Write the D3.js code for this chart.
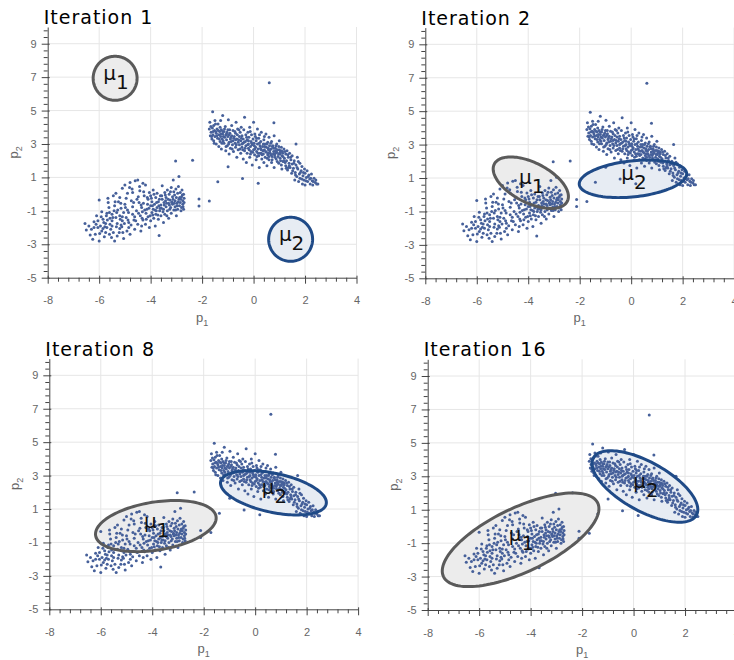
<!DOCTYPE html>
<html>
<head>
<meta charset="utf-8">
<script src="https://cdn.jsdelivr.net/npm/d3@7"></script>
<style>
  body { margin: 0; background: #fff; }
  svg { display: block; }
</style>
</head>
<body>
<svg id="chart" width="734" height="660"></svg>
<script>
const titles = ['Iteration 1', 'Iteration 2', 'Iteration 8', 'Iteration 16']
const xTicks = [-8, -6, -4, -2, 0, 2, 4]
const yTicks = [-5, -3, -1, 1, 3, 5, 7, 9]

// lower-left cloud
const cluster1 = [
  [-6.55,-1.75],[-6.5,-2.15],[-6.3,-2.1],[-6.25,-2.7],[-6.2,-1.65],[-6.15,-2.4],
  [-6.05,-1.6],[-6.0,-2.8],[-5.95,-1.9],[-5.9,-2.2],[-6.1,-1.3],[-6.0,-0.35],[-5.85,-1.5],[-5.8,-2.55],[-5.9,-1.05],[-6.05,-2.0],
  [-5.75,-1.75],[-5.7,-2.0],[-5.72,-1.3],[-5.65,-0.5],[-5.6,-2.4],[-5.78,-1.95],[-5.68,-1.55],[-5.6,-1.1],[-5.55,-2.1],[-5.62,-0.8],
  [-5.5,-1.6],[-5.45,-2.3],[-5.4,-2.8],[-5.5,-1.2],[-5.45,-0.1],[-5.35,0.05],[-5.4,-0.7],[-5.5,-1.9],[-5.35,-1.4],[-5.3,-2.5],[-5.42,-1.0],[-5.3,-1.75],[-5.25,-0.45],
  [-5.2,-1.3],[-5.2,-2.05],[-5.15,-0.85],[-5.1,-1.6],[-5.05,-2.65],[-5.1,0.35],[-5.0,0.55],[-5.2,-0.2],[-5.15,-1.85],[-5.05,-1.1],[-5.0,-0.6],[-5.08,-2.3],[-5.18,-1.5],
  [-4.95,-1.4],[-4.9,-0.95],[-4.85,-2.0],[-4.9,0.05],[-4.8,0.7],[-4.85,-1.7],[-4.75,-0.4],[-4.8,-2.4],[-4.7,-1.2],[-4.72,0.3],[-4.95,-0.25],[-4.65,-1.55],[-4.7,-0.75],[-4.6,0.8],[-4.62,-2.1],
  [-4.55,-1.0],[-4.5,0.85],[-4.45,-0.5],[-4.5,-1.8],[-4.4,-1.3],[-4.42,0.2],[-4.35,-0.8],[-4.3,0.65],[-4.38,-2.2],[-4.3,-1.55],[-4.25,-0.1],[-4.48,-0.15],[-4.32,-1.05],[-4.28,-0.55],[-4.2,-1.8],[-4.2,0.55],
  [-4.15,-0.9],[-4.1,-0.3],[-4.1,-1.35],[-4.05,0.1],[-4.0,-0.7],[-4.0,-1.6],[-3.95,-0.45],[-3.95,-1.1],[-4.05,-2.0],[-3.9,0.25],[-3.9,-0.9],[-3.88,-1.45],[-4.0,-0.1],[-3.85,-0.6],[-4.12,-0.6],[-3.82,-1.9],[-3.8,-0.2],[-3.8,-1.2],
  [-3.75,-0.8],[-3.75,0.05],[-3.7,-1.5],[-3.7,-0.45],[-3.65,-1.0],[-3.62,-0.1],[-3.6,-0.65],[-3.6,-1.3],[-3.55,0.5],[-3.55,-0.3],[-3.5,-0.9],[-3.5,-1.7],[-3.48,-0.5],[-3.45,0.1],[-3.45,-1.2],[-3.4,-0.75],[-3.4,-0.2],[-3.35,-1.0],[-3.35,0.25],[-3.3,-0.55],
  [-3.3,-1.45],[-3.28,0.0],[-3.25,-0.35],[-3.22,-0.8],[-3.2,0.4],[-3.2,-1.15],[-3.15,-0.15],[-3.15,-0.6],[-3.12,0.85],[-3.1,-0.95],[-3.1,0.15],[-3.05,-0.4],[-3.05,-0.75],[-3.02,0.3],[-3.0,-0.2],[-3.0,-1.3],[-2.98,-0.55],[-2.95,0.05],[-2.95,-0.9],[-2.92,0.45],
  [-2.9,-0.3],[-2.88,-0.7],[-2.85,0.1],[-2.85,-0.5],[-2.82,-1.0],[-2.8,-0.15],[-2.8,-0.8],[-2.78,0.25],[-2.75,-0.4],[-2.75,-0.6],[-2.72,-0.9],[-2.7,-0.25],[-2.72,0.0],[-2.9,1.05],[-2.7,-0.5],
  [-3.58,-0.85],[-3.42,-0.4],[-3.27,-0.65],[-3.13,-0.3],[-2.97,-0.7],[-3.38,-0.55],[-3.68,-0.7],[-3.78,-1.0],[-3.92,-1.25],[-4.18,-1.15],
  [-4.35,-1.9],[-4.62,-1.35],[-4.88,-1.55],[-5.12,-1.95],[-5.32,-1.1],[-5.58,-1.45],[-5.82,-1.7],[-3.18,-0.5],[-2.87,-0.2],[-3.07,-0.05],
  [-6.4,-1.9],[-6.35,-2.45],[-6.2,-2.0],[-6.12,-1.8],[-5.98,-2.35],[-5.92,-1.35],[-5.85,-2.05],[-5.75,-2.3],[-5.7,-1.15],[-5.66,-0.25],
  [-5.58,-1.8],[-5.52,-2.6],[-5.47,-1.4],[-5.38,-0.45],[-5.33,-1.95],[-5.28,-0.95],[-5.22,-2.3],[-5.16,-0.55],[-5.1,-1.35],[-5.02,-1.75],
  [-4.98,-0.8],[-4.92,-2.2],[-4.86,-1.1],[-4.82,0.4],[-4.76,-1.85],[-4.7,0.1],[-4.66,-0.5],[-4.58,-1.6],[-4.53,-0.3],[-4.47,-1.15],
  [-4.43,0.45],[-4.37,-0.65],[-4.33,-1.45],[-4.27,0.15],[-4.23,-0.95],[-4.17,-1.5],[-4.13,-0.2],[-4.07,-0.85],[-4.02,-1.3],[-3.97,-0.25],
  [-3.93,-0.7],[-3.87,0.0],[-3.83,-0.95],[-3.77,-0.5],[-3.72,-1.25],[-3.66,-0.3],[-3.63,-0.85],[-3.57,-0.1],[-3.52,-1.05],[-3.47,-0.65],
  [-3.43,-0.05],[-3.37,-1.3],[-3.32,-0.3],[-3.26,-0.9],[-3.23,0.15],[-3.17,-0.45],[-3.08,-0.55],[-3.03,-0.95],[-2.93,-0.45],[-2.83,-0.3],
  [-2.77,-0.05],[-2.74,-0.75]
]

// upper-right cloud
const cluster2 = [
  [-1.7,4.3],[-1.68,3.5],[-1.65,3.7],[-1.62,3.3],[-1.6,3.95],[-1.58,3.55],[-1.55,4.1],[-1.55,3.2],[-1.52,3.8],[-1.5,3.45],[-1.5,4.4],
  [-1.45,3.65],[-1.45,3.0],[-1.42,3.9],[-1.4,3.35],[-1.38,4.2],[-1.35,3.55],[-1.35,2.85],[-1.32,3.75],[-1.3,3.15],[-1.3,4.0],[-1.28,3.45],[-1.25,2.7],[-1.25,3.85],[-1.22,3.3],[-1.2,4.7],[-1.2,3.6],
  [-1.15,3.05],[-1.15,3.75],[-1.12,3.4],[-1.1,4.05],[-1.08,2.6],[-1.05,3.25],[-1.05,3.6],[-1.02,2.9],[-1.0,3.85],[-1.0,3.45],[-0.98,4.45],[-0.95,3.1],[-0.95,2.4],[-0.92,3.65],[-0.9,3.3],[-0.9,2.75],
  [-0.85,3.5],[-0.85,4.1],[-0.82,2.95],[-0.8,3.2],[-0.8,3.8],[-0.78,2.55],[-0.75,3.45],[-0.72,3.05],[-0.7,3.65],[-0.7,2.8],[-0.68,4.3],[-0.65,3.3],[-0.65,2.2],[-0.62,3.9],[-0.6,3.1],[-0.6,2.65],
  [-0.55,3.45],[-0.55,2.95],[-0.52,3.7],[-0.5,2.45],[-0.5,3.2],[-0.48,4.0],[-0.45,2.8],[-0.45,3.5],[-0.42,3.05],[-0.4,2.1],[-0.4,3.3],[-0.38,3.85],[-0.35,2.6],[-0.35,4.6],[-0.32,3.15],[-0.3,2.9],[-0.3,3.55],[-0.28,1.9],
  [-0.25,3.25],[-0.25,2.45],[-0.22,3.7],[-0.2,2.75],[-0.2,3.0],[-0.18,3.4],[-0.15,2.2],[-0.15,4.0],[-0.12,2.85],[-0.1,3.15],[-0.1,2.55],[-0.08,3.55],[-0.05,1.75],[-0.05,2.95],[-0.02,3.3],[0.0,2.65],[0.0,4.3],[0.02,3.05],[0.04,2.35],[0.05,3.6],
  [0.08,2.8],[0.1,3.2],[0.1,2.05],[0.12,2.55],[0.15,3.0],[0.15,3.9],[0.18,2.7],[0.2,2.3],[0.2,3.35],[0.22,1.6],[0.25,2.9],[0.25,2.45],[0.28,3.15],[0.3,2.65],[0.3,3.7],[0.32,2.1],
  [0.35,2.85],[0.38,2.4],[0.4,3.25],[0.4,1.9],[0.42,2.65],[0.45,3.0],[0.45,2.2],[0.48,3.6],[0.5,2.5],[0.5,2.8],[0.52,1.7],[0.55,3.1],[0.55,2.35],[0.58,2.65],[0.6,2.05],[0.6,3.4],[0.62,2.9],
  [0.65,2.45],[0.68,2.7],[0.7,1.9],[0.7,3.15],[0.72,2.25],[0.75,2.9],[0.78,2.55],[0.8,1.6],[0.8,3.5],[0.82,2.35],[0.85,2.75],[0.88,2.1],[0.9,3.0],[0.9,2.5],
  [0.95,2.25],[0.98,1.85],[1.0,2.65],[1.0,3.2],[1.02,2.4],[1.05,2.0],[1.08,2.8],[1.1,1.5],[1.1,2.3],[1.12,2.55],[1.15,1.95],[1.18,2.7],[1.2,2.15],
  [1.25,2.4],[1.25,1.7],[1.28,2.0],[1.3,2.6],[1.32,1.45],[1.35,2.2],[1.38,1.85],[1.4,2.45],[1.42,1.6],[1.45,2.05],[1.48,1.25],[1.5,1.8],[1.5,2.3],
  [1.55,1.55],[1.58,2.0],[1.6,0.85],[1.62,1.3],[1.65,1.75],[1.65,3.0],[1.68,1.05],[1.7,2.2],[1.72,1.5],[1.75,0.75],[1.78,1.2],[1.8,1.85],[1.8,0.95],
  [1.85,1.4],[1.88,1.65],[1.9,0.6],[1.92,1.1],[1.95,0.85],[1.98,1.5],[2.0,1.25],[2.0,0.55],[2.05,1.0],[2.08,1.4],[2.1,0.75],
  [2.15,1.15],[2.18,0.9],[2.2,0.6],[2.25,1.2],[2.28,0.8],[2.3,0.55],[2.35,0.95],[2.4,0.7],[2.45,0.6],[2.5,0.6],
  [-0.58,3.25],[-0.42,2.65],[-0.27,3.4],[-0.12,2.4],[0.03,2.9],[0.12,3.35],[0.27,2.75],[0.33,2.35],[0.43,2.85],[0.53,2.15],
  [0.63,2.6],[0.73,2.85],[0.83,2.2],[0.93,2.65],[1.03,2.15],[1.13,2.45],[1.23,1.9],[0.47,2.55],[0.17,2.45],[-0.07,3.05],
  [-0.33,2.75],[-0.63,3.55],[-0.88,3.4],[-1.08,3.55],[-1.27,3.6],[-1.47,3.75],[-1.18,3.2],[-0.97,3.0],[-0.77,3.35],[0.57,2.75],
  [0.77,2.4],[0.87,2.9],[1.07,2.6],[0.22,3.05],[-0.17,2.65],[0.38,3.0],[0.68,2.35],[0.97,2.4],[1.17,2.0],[1.35,1.6],
  [-1.72,3.9],[-1.66,4.05],[-1.63,3.45],[-1.57,3.75],[-1.53,3.05],[-1.48,4.2],[-1.43,3.5],[-1.37,3.8],[-1.33,3.3],[-1.28,4.4],
  [-1.23,3.05],[-1.17,3.45],[-1.13,3.9],[-1.07,2.85],[-1.03,3.7],[-0.93,3.85],[-0.87,3.15],[-0.83,2.7],[-0.73,3.75],[-0.67,2.95],
  [-0.57,3.85],[-0.53,2.7],[-0.47,3.35],[-0.37,3.1],[-0.23,2.95],[-0.13,3.75],[-0.03,2.5],[0.07,3.45],[0.13,2.25],[0.23,3.55],
  [0.37,2.6],[0.42,3.45],[0.52,3.0],[0.58,2.45],[0.67,3.05],[0.72,2.05],[0.78,2.75],[0.85,2.45],[0.92,1.95],[0.98,2.85],
  [1.03,2.5],[1.08,1.75],[1.14,2.25],[1.22,2.55],[1.27,1.55],[1.33,2.35],[1.39,1.7],[1.44,2.2],[1.52,1.4],[1.57,1.85],
  [1.63,1.15],[1.69,1.6],[1.74,1.95],[1.82,1.3],[1.87,0.9],[1.94,1.3],[2.03,0.8],[2.12,1.05],[2.22,0.95],[2.32,0.75],
  [2.42,0.85],[0.3,2.45],[0.05,2.7],[-0.2,3.2],[-0.45,3.0],[-0.7,3.25],[-0.95,3.55],[-1.2,3.75],[0.6,2.25],[0.85,2.6]
]

// isolated points
const strays = [
  [0.61,6.67],[-1.59,4.93],[0.79,4.27],[-1.39,0.74],[-0.99,1.64],[-0.43,0.94],[0.18,0.65],
  [-1.72,-0.41],[-2.12,-0.29],[-2.12,-0.71],[-3.03,1.98],[-2.37,2.02],[-3.67,-2.47]
]

// component means and ellipse semi-axes (data units), one entry per iteration
const mu1Center = [[-5.38, 6.93], [-3.90, 0.72], [-3.86, -0.02], [-4.39, -0.80]]
const mu1AxisA = [[0.854, 0], [1.419, -1.114], [2.340, 0.571], [2.997, 2.203]]
const mu1AxisB = [[0, 1.317], [-0.353, -1.066], [0.146, -1.419], [0.535, -1.728]]
const mu2Center = [[1.44, -2.70], [0.07, 0.95], [0.71, 1.97], [0.44, 2.39]]
const mu2AxisA = [[0.854, 0], [2.086, 0.338], [2.051, -0.672], [2.004, -1.712]]
const mu2AxisB = [[0, 1.317], [0.073, -1.071], [-0.158, -1.141], [-0.461, -1.282]]

const panelPos = [
  { left: 47.7, top: 27.0 },
  { left: 425.3, top: 27.6 },
  { left: 49.3, top: 358.6 },
  { left: 427.7, top: 359.3 },
]
const plotW = 308.8
const plotH = 250.7

const pointColour = '#46609a'
const comps = [
  { name: '1', stroke: '#5a5a5a', fill: '#ececec', centers: mu1Center, a: mu1AxisA, b: mu1AxisB },
  { name: '2', stroke: '#1f4a87', fill: '#e7ecf3', centers: mu2Center, a: mu2AxisA, b: mu2AxisB },
]
const allPoints = cluster1.concat(cluster2, strays)

const x = d3.scaleLinear().domain([-8, 4]).range([0, plotW])
const y = d3.scaleLinear().domain([-5, 10]).range([plotH, 0])

const xMinor = d3.range(-8, 4.001, 0.4).filter((v) => Math.abs(v / 2 - Math.round(v / 2)) > 0.01)
const yMinor = d3.range(-5, 10.001, 0.4).filter((v) => Math.abs((v + 5) / 2 - Math.round((v + 5) / 2)) > 0.01)

const svg = d3.select('#chart')
const thetas = d3.range(0, 2 * Math.PI, Math.PI / 60)

const ellipseLine = d3
  .line()
  .x((d) => x(d[0]))
  .y((d) => y(d[1]))
  .curve(d3.curveLinearClosed)

function ellipsePoints(c, a, b) {
  return thetas.map((t) => [
    c[0] + a[0] * Math.cos(t) + b[0] * Math.sin(t),
    c[1] + a[1] * Math.cos(t) + b[1] * Math.sin(t),
  ])
}

titles.forEach((title, i) => {
  const pos = panelPos[i]
  const g = svg.append('g').attr('transform', `translate(${pos.left}, ${pos.top})`)

  // grid
  g.append('g')
    .selectAll('line')
    .data(xTicks.filter((v) => v > -8))
    .join('line')
    .attr('x1', (d) => x(d)).attr('x2', (d) => x(d))
    .attr('y1', 0).attr('y2', plotH)
    .attr('stroke', '#e6e6e6')
  g.append('g')
    .selectAll('line')
    .data(yTicks.filter((v) => v > -5))
    .join('line')
    .attr('y1', (d) => y(d)).attr('y2', (d) => y(d))
    .attr('x1', 0).attr('x2', plotW)
    .attr('stroke', '#e6e6e6')

  // ellipse fills under the points
  comps.forEach((c) => {
    g.append('path')
      .attr('d', ellipseLine(ellipsePoints(c.centers[i], c.a[i], c.b[i])))
      .attr('fill', c.fill)
      .attr('stroke', 'none')
  })

  g.append('g')
    .selectAll('circle')
    .data(allPoints)
    .join('circle')
    .attr('cx', (d) => x(d[0]))
    .attr('cy', (d) => y(d[1]))
    .attr('r', 1.5)
    .attr('fill', pointColour)

  comps.forEach((c) => {
    g.append('path')
      .attr('d', ellipseLine(ellipsePoints(c.centers[i], c.a[i], c.b[i])))
      .attr('fill', 'none')
      .attr('stroke', c.stroke)
      .attr('stroke-width', 3)
  })

  // axes
  const xAxis = g.append('g')
    .attr('transform', `translate(0, ${plotH})`)
    .call(d3.axisBottom(x).tickValues(xTicks).tickSize(6).tickSizeOuter(0).tickPadding(13).tickFormat((d) => String(d)))
  const xMinorAxis = g.append('g')
    .attr('transform', `translate(0, ${plotH})`)
    .call(d3.axisBottom(x).tickValues(xMinor).tickSize(4).tickSizeOuter(0).tickFormat(''))
  const yAxis = g.append('g')
    .call(d3.axisLeft(y).tickValues(yTicks).tickSize(6).tickSizeOuter(0).tickPadding(5).tickFormat((d) => String(d)))
  const yMinorAxis = g.append('g')
    .call(d3.axisLeft(y).tickValues(yMinor).tickSize(4).tickSizeOuter(0).tickFormat(''))

  xAxis.selectAll('.tick line').attr('y1', -2)
  yAxis.selectAll('.tick line').attr('x1', 2)
  ;[xAxis, yAxis, xMinorAxis, yMinorAxis].forEach((ax) => {
    ax.select('.domain').attr('stroke', '#444')
    ax.selectAll('.tick line').attr('stroke', '#444')
    ax.selectAll('.tick text')
      .attr('fill', '#666')
      .style('font-family', '"Liberation Sans", Arial, sans-serif')
      .style('font-size', '11px')
  })
  xMinorAxis.select('.domain').remove()
  yMinorAxis.select('.domain').remove()

  // axis titles
  const xLabel = g.append('text')
    .attr('x', plotW / 2)
    .attr('y', plotH + 44)
    .attr('text-anchor', 'middle')
    .attr('fill', '#666')
    .style('font-family', '"Liberation Sans", Arial, sans-serif')
    .style('font-size', '13px')
  xLabel.append('tspan').text('p')
  xLabel.append('tspan').attr('dy', 4).style('font-size', '9px').text('1')

  const yLabel = g.append('text')
    .attr('transform', `translate(-30, ${plotH / 2}) rotate(-90)`)
    .attr('text-anchor', 'middle')
    .attr('fill', '#666')
    .style('font-family', '"Liberation Sans", Arial, sans-serif')
    .style('font-size', '13px')
  yLabel.append('tspan').text('p')
  yLabel.append('tspan').attr('dy', 4).style('font-size', '9px').text('2')

  // component labels
  comps.forEach((c) => {
    const ctr = c.centers[i]
    const t = g.append('text')
      .attr('x', x(ctr[0]) + 1)
      .attr('y', y(ctr[1]) + 1.5)
      .attr('text-anchor', 'middle')
      .attr('fill', '#111')
      .style('font-family', '"DejaVu Sans", sans-serif')
      .style('font-size', '20px')
    t.append('tspan').text('μ')
    t.append('tspan').attr('dy', 9).text(c.name)
  })

  svg.append('text')
    .attr('x', pos.left - 4)
    .attr('y', pos.top - 3)
    .attr('fill', '#000')
    .style('font-family', '"DejaVu Sans", sans-serif')
    .style('font-size', '19px')
    .style('letter-spacing', '1px')
    .text(title)
})
</script>
</body>
</html>
